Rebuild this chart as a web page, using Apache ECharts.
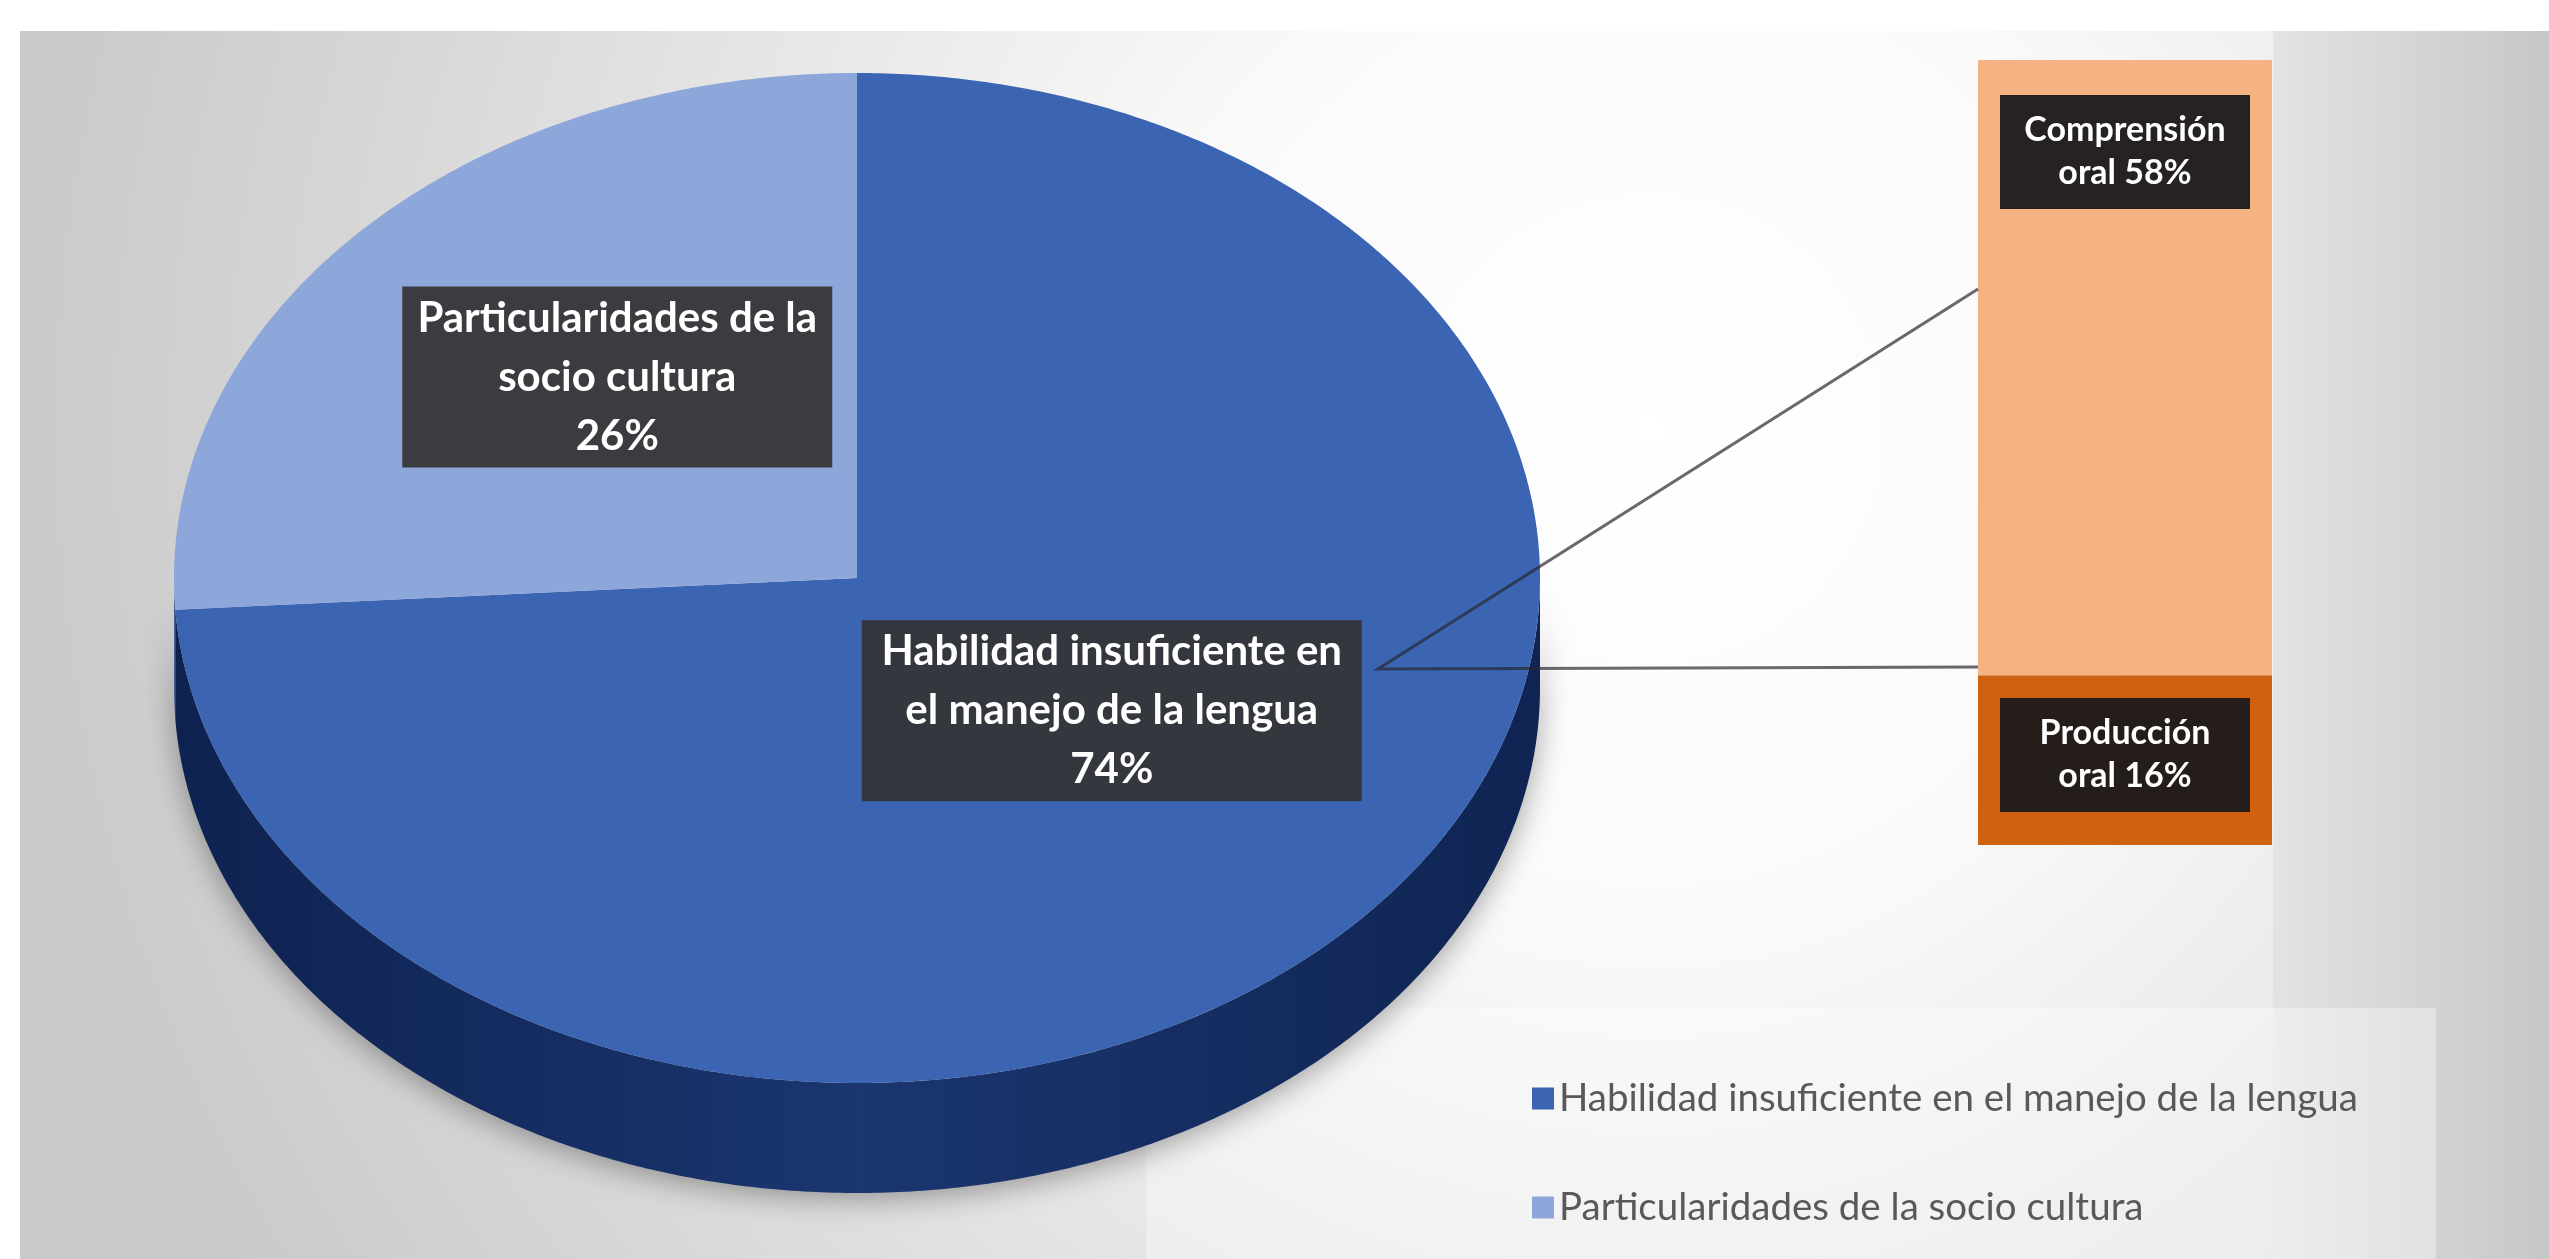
<!DOCTYPE html>
<html>
<head>
<meta charset="utf-8">
<script src="https://cdn.jsdelivr.net/npm/echarts@6/dist/echarts.min.js"></script>
<style>
  html, body { margin: 0; padding: 0; background: #ffffff; }
  #chart { width: 2549px; height: 1259px; }
</style>
</head>
<body>
<div id="chart"></div>
<script>
// Main pie: sources of difficulty in oral communication (percent)
const pieCategories = ['Habilidad insuficiente en el manejo de la lengua', 'Particularidades de la socio cultura'];
const pieValues = [74, 26];

// Breakdown of the first slice, shown as a stacked bar
const barCategories = ['Comprensión oral', 'Producción oral'];
const barValues = [58, 16];

const FONT = "Lato, 'Open Sans', 'Liberation Sans', sans-serif";
const PIE_LABEL_FONT = 'bold 42px ' + FONT;

// Layout of the tilted pie (ellipse face + extruded side)
const PIE = { cx: 857, cy: 578, rx: 683, ry: 505, depth: 110 };
const faceColors = ['#3b65b3', '#8ea7da'];
const sideColors = ['#1b3670', '#5d75a8'];
const labelOffsets = [[0.373, 0.263], [-0.351, -0.398]];
const labelWidths = [480, 410];

const pieTotal = pieValues.reduce((a, b) => a + b, 0);

// Word wrapping for the data label boxes
const measureCtx = document.createElement('canvas').getContext('2d');
function wrapWords(text, font, maxWidth) {
  measureCtx.font = font;
  const lines = [];
  let cur = '';
  text.split(' ').forEach(w => {
    const t = cur ? cur + ' ' + w : w;
    if (cur && measureCtx.measureText(t).width > maxWidth) { lines.push(cur); cur = w; }
    else cur = t;
  });
  if (cur) lines.push(cur);
  return lines.join('\n');
}

// Slice angles in degrees (math convention), drawn clockwise from 12 o'clock
function sliceAngles(i) {
  let before = 0;
  for (let k = 0; k < i; k++) before += pieValues[k];
  const a0 = 90 - before / pieTotal * 360;
  const a1 = 90 - (before + pieValues[i]) / pieTotal * 360;
  return [a0, a1];
}
function ellipsePoint(deg, dy) {
  const r = deg * Math.PI / 180;
  return [PIE.cx + PIE.rx * Math.cos(r), PIE.cy - PIE.ry * Math.sin(r) + (dy || 0)];
}
function arcPoints(from, to, dy) {
  const n = Math.max(2, Math.ceil(Math.abs(from - to) * 2));
  const pts = [];
  for (let s = 0; s <= n; s++) pts.push(ellipsePoint(from + (to - from) * s / n, dy));
  return pts;
}

const pieSeries = pieCategories.map((name, i) => ({
  type: 'custom',
  name: name,
  coordinateSystem: 'none',
  itemStyle: { color: faceColors[i] },
  data: [{ name: name, value: pieValues[i] }],
  z: 3,
  renderItem: function (params, api) {
    const [a0, a1] = sliceAngles(i);
    const children = [];
    // visible part of the side wall: lower half of the ellipse
    const hi = Math.min(a0, 0), lo = Math.max(a1, -180);
    if (hi > lo) {
      children.push({
        type: 'polygon',
        shape: { points: arcPoints(hi, lo, 0).concat(arcPoints(lo, hi, PIE.depth)) },
        style: {
          fill: new echarts.graphic.LinearGradient(0, 0, 1, 0, [
            { offset: 0, color: '#0e2250' },
            { offset: 0.5, color: sideColors[i] },
            { offset: 1, color: '#0f2452' }
          ]),
          shadowBlur: 30, shadowColor: 'rgba(0,0,0,0.35)', shadowOffsetY: 6
        }
      });
    }
    children.push({
      type: 'polygon',
      shape: { points: [[PIE.cx, PIE.cy]].concat(arcPoints(a0, a1, 0)) },
      style: { fill: faceColors[i] }
    });
    children.push({
      type: 'text',
      x: PIE.cx + labelOffsets[i][0] * PIE.rx,
      y: PIE.cy + labelOffsets[i][1] * PIE.ry,
      z2: 10,
      style: {
        text: wrapWords(name, PIE_LABEL_FONT, labelWidths[i]) + '\n' + api.value(0) + '%',
        width: labelWidths[i],
        align: 'center',
        verticalAlign: 'middle',
        fill: '#ffffff',
        font: PIE_LABEL_FONT,
        lineHeight: 59,
        backgroundColor: 'rgba(52,52,52,0.93)',
        padding: [2, 10]
      }
    });
    return { type: 'group', children: children };
  }
}));

const barLabel = {
  show: true,
  formatter: p => p.seriesName.replace(' ', '\n') + ' ' + p.value + '%',
  width: 230,
  align: 'center',
  color: '#ffffff',
  fontFamily: FONT,
  fontWeight: 'bold',
  fontSize: 34,
  lineHeight: 43,
  backgroundColor: 'rgba(24,24,28,0.94)',
  padding: [14, 10]
};

const option = {
  backgroundColor: '#ffffff',
  animation: false,
  grid: { left: 1978, top: 60, width: 294, height: 785 },
  xAxis: { type: 'category', data: ['oral'], show: false },
  yAxis: { type: 'value', min: 0, max: pieValues[0], show: false },
  legend: {
    data: pieCategories,
    orient: 'vertical',
    left: 1527,
    top: 1074,
    itemGap: 70,
    itemWidth: 22,
    itemHeight: 22,
    itemTextGap: 8,
    icon: 'rect',
    selectedMode: false,
    textStyle: { fontFamily: FONT, fontSize: 38.5, color: '#595959' }
  },
  graphic: {
    elements: [
      {
        type: 'rect', z: -10,
        shape: { x: 20, y: 31, width: 2529, height: 1228 },
        style: {
          fill: new echarts.graphic.RadialGradient(1650, 430, 1650, [
            { offset: 0, color: '#ffffff' },
            { offset: 0.3, color: '#fafafa' },
            { offset: 0.55, color: '#e8e8e8' },
            { offset: 0.8, color: '#d6d6d6' },
            { offset: 1, color: '#c9c9c9' }
          ], true)
        }
      },
      {
        type: 'rect', z: -9,
        shape: { x: 2273, y: 31, width: 276, height: 1228 },
        style: {
          fill: new echarts.graphic.LinearGradient(0, 0, 1, 0, [
            { offset: 0, color: '#e3e3e3' },
            { offset: 1, color: '#c7c7c7' }
          ])
        }
      },
      {
        type: 'rect', z: -8,
        shape: { x: 1146, y: 1008, width: 1290, height: 251 },
        style: { fill: 'rgba(255,255,255,0.35)' }
      },
      {
        type: 'polyline', z: 100,
        shape: { points: [[1978, 289], [1378, 669], [1978, 667]] },
        style: { stroke: 'rgba(40,40,48,0.7)', lineWidth: 3, fill: null }
      }
    ]
  },
  series: pieSeries.concat([
    {
      type: 'bar',
      name: barCategories[1],
      stack: 'oral',
      barWidth: '100%',
      data: [barValues[1]],
      itemStyle: { color: '#d0610f' },
      label: Object.assign({}, barLabel, { position: 'insideBottom', distance: 33 })
    },
    {
      type: 'bar',
      name: barCategories[0],
      stack: 'oral',
      barWidth: '100%',
      data: [barValues[0]],
      itemStyle: { color: '#f5b383' },
      label: Object.assign({}, barLabel, { position: 'insideTop', distance: 35 })
    }
  ])
};

const chart = echarts.init(document.getElementById('chart'), null, { renderer: 'canvas' });
chart.setOption(option);
</script>
</body>
</html>
